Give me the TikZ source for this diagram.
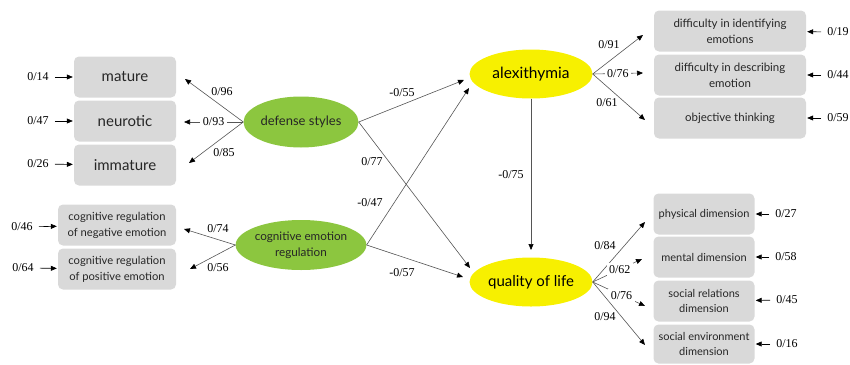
\documentclass[tikz,border=0pt]{standalone}
\usepackage{fontspec}
\setmainfont{Liberation Serif}
\newfontfamily\lato{Lato}
\usetikzlibrary{arrows.meta,shapes.geometric,calc}
\definecolor{boxgray}{HTML}{D9D9D9}
\definecolor{lgreen}{HTML}{8CC63F}
\definecolor{lyellow}{HTML}{F7F000}
\definecolor{txt}{HTML}{262626}
\definecolor{linegray}{HTML}{555555}
\begin{document}
\begin{tikzpicture}[x=1pt,y=-1pt,
  box/.style={fill=boxgray,rounded corners=5pt,minimum height=41pt,align=center,inner sep=1pt,text=txt},
  bigbox/.style={box,minimum width=102pt,font=\lato\fontsize{15}{18}\selectfont},
  crbox/.style={box,minimum width=118pt,font=\lato\fontsize{11.2}{16}\selectfont},
  tabox/.style={box,minimum width=152pt,font=\lato\fontsize{11.5}{16}\selectfont},
  qbox/.style={box,minimum width=101pt,font=\lato\fontsize{11}{15.5}\selectfont},
  latg/.style={ellipse,fill=lgreen,minimum width=115pt,minimum height=51pt,inner sep=0pt,align=center,text=txt},
  laty/.style={ellipse,fill=lyellow,minimum width=123pt,minimum height=49pt,inner sep=0pt,align=center,text=black,font=\lato\fontsize{15.5}{17}\selectfont},
  lbl/.style={font=\fontsize{12}{12}\selectfont,inner sep=1pt},
  ilbl/.style={lbl,fill=white,inner sep=2.5pt},
  conn/.style={draw=linegray,line width=0.6pt,-{Triangle[length=6pt,width=5pt,fill=black,color=black]}},
  earr/.style={draw=black,line width=0.6pt,-{Triangle[length=6pt,width=5pt]},shorten >=1pt,shorten <=5pt}
]
\useasboundingbox (0,0) rectangle (850,364);

% left indicator boxes
\node[bigbox] (mat) at (125,77) {mature};
\node[bigbox] (neu) at (125,121) {neurotic};
\node[bigbox] (imm) at (125,165) {immature};
\node[crbox] (neg) at (117,225) {cognitive regulation\\of negative emotion};
\node[crbox] (pos) at (117,269) {cognitive regulation\\of positive emotion};

% latent variables
\node[latg,font=\lato\fontsize{13}{15}\selectfont] (ds) at (301,122) {defense styles};
\node[latg,font=\lato\fontsize{11.7}{16}\selectfont,minimum height=50pt] (cer) at (301,245) {cognitive emotion\\regulation};
\node[laty] (alex) at (531,74) {alexithymia};
\node[laty,font=\lato\fontsize{15}{17}\selectfont] (qol) at (531,282) {quality of life};

% right boxes
\node[tabox] (dif) at (730,31) {difficulty in identifying\\emotions};
\node[tabox] (dde) at (730,75) {difficulty in describing\\emotion};
\node[tabox] (obj) at (730,118) {objective thinking};
\node[qbox] (phy) at (704,214) {physical dimension};
\node[qbox] (men) at (704,257) {mental dimension};
\node[qbox] (soc) at (704,301) {social relations\\dimension};
\node[qbox,minimum height=39pt] (env) at (704,344) {social environment\\dimension};

% error labels
\node[lbl] (e1) at (38,77) {0/14};
\node[lbl] (e2) at (38,121) {0/47};
\node[lbl] (e3) at (38,164) {0/26};
\node[lbl] (e4) at (22,227) {0/46};
\node[lbl] (e5) at (23,268) {0/64};
\node[lbl] (e6) at (838,32) {0/19};
\node[lbl] (e7) at (838,75) {0/44};
\node[lbl] (e8) at (838,118) {0/59};
\node[lbl] (e9) at (786,214) {0/27};
\node[lbl] (e10) at (786,257) {0/58};
\node[lbl] (e11) at (787,300) {0/45};
\node[lbl] (e12) at (787,344) {0/16};

\foreach \a/\b in {e1/mat,e2/neu,e3/imm,e4/neg,e5/pos,e6/dif,e7/dde,e8/obj,e9/phy,e10/men,e11/soc,e12/env}
  \draw[earr] (\a) -- (\b);

% defense styles loadings
\coordinate (tmat) at (185,79);
\coordinate (tneu) at (184,122);
\coordinate (timm) at (189,163);
\draw[conn] (ds.west) -- (tmat);
\draw[conn] (ds.west) -- node[ilbl,pos=0.5] {0/93} (tneu);
\draw[conn] (ds.west) -- (timm);
\node[lbl] at (222,92) {0/96};
\node[lbl] at (224,153) {0/85};

% CER loadings
\coordinate (tneg) at (184,229);
\coordinate (tpos) at (190,269);
\draw[conn] (cer.west) -- (tneg);
\draw[conn] (cer.west) -- (tpos);
\node[lbl] at (218,229) {0/74};
\node[lbl] at (218,268) {0/56};

% structural paths
\coordinate (a1) at (464,80);
\coordinate (a2) at (469,88);
\coordinate (q1) at (470,268);
\coordinate (q2) at (463,277);
\draw[conn] (ds.east) -- (a1);
\draw[conn] (ds.east) -- (q1);
\draw[conn] (cer.east) -- (a2);
\draw[conn] (cer.east) -- (q2);
\coordinate (qtop) at (531,250);
\draw[conn] (alex.south) -- (qtop);
\node[lbl] at (402,93) {-0/55};
\node[lbl] at (372,162) {0/77};
\node[lbl] at (370,203) {-0/47};
\node[lbl] at (402,273) {-0/57};
\node[lbl] at (511,175) {-0/75};

% alexithymia loadings
\coordinate (tdif) at (643,35);
\coordinate (tdde) at (643,73);
\coordinate (tobj) at (645,120);
\draw[conn] (alex.east) -- (tdif);
\draw[conn] (alex.east) -- node[ilbl,pos=0.5] {0/76} (tdde);
\draw[conn] (alex.east) -- (tobj);
\node[lbl] at (609,45) {0/91};
\node[lbl] at (607,103) {0/61};

% quality of life loadings
\coordinate (tphy) at (645,222);
\coordinate (tmen) at (642,259);
\coordinate (tsoc) at (645,306);
\coordinate (tenv) at (645,345);
\draw[conn] (qol.east) -- (tphy);
\draw[conn] (qol.east) -- node[ilbl,pos=0.55] {0/62} (tmen);
\draw[conn] (qol.east) -- node[ilbl,pos=0.55] {0/76} (tsoc);
\draw[conn] (qol.east) -- (tenv);
\node[lbl] at (605,246) {0/84};
\node[lbl] at (605,317) {0/94};
\end{tikzpicture}
\end{document}
